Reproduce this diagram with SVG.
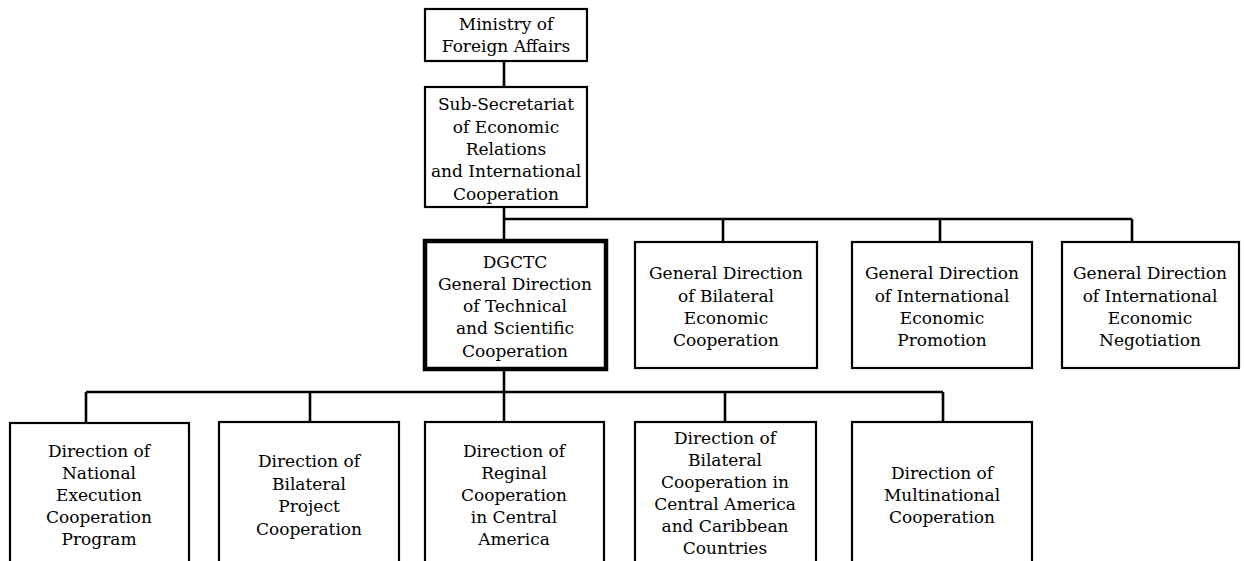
<svg xmlns="http://www.w3.org/2000/svg" width="1244" height="561" viewBox="0 0 1244 561">
<style>
.box{fill:#fff;stroke:#000;stroke-width:2.2}
.main{fill:#fff;stroke:#000;stroke-width:4.5}
.ln{stroke:#000;stroke-width:2.6;fill:none}
text{font-family:"DejaVu Serif","Liberation Serif",serif;font-size:17px;fill:#000;text-anchor:middle}
</style>
<rect width="1244" height="561" fill="#fff"/>
<g id="connectors">
<line class="ln" x1="504" y1="61" x2="504" y2="87"/>
<line class="ln" x1="504" y1="207" x2="504" y2="240"/>
<line class="ln" x1="504" y1="219" x2="1132" y2="219"/>
<line class="ln" x1="723" y1="219" x2="723" y2="242"/>
<line class="ln" x1="940" y1="219" x2="940" y2="242"/>
<line class="ln" x1="1132" y1="219" x2="1132" y2="242"/>
<line class="ln" x1="504" y1="369" x2="504" y2="422"/>
<line class="ln" x1="86" y1="392" x2="943" y2="392"/>
<line class="ln" x1="86" y1="392" x2="86" y2="423"/>
<line class="ln" x1="310" y1="392" x2="310" y2="422"/>
<line class="ln" x1="725" y1="392" x2="725" y2="422"/>
<line class="ln" x1="943" y1="392" x2="943" y2="422"/>
</g>
<g id="ministry">
<rect class="box" x="425" y="9" width="162" height="52"/>
<text x="506" y="30">Ministry of</text>
<text x="506" y="52">Foreign Affairs</text>
</g>
<g id="subsecretariat">
<rect class="box" x="425" y="87" width="162" height="120"/>
<text x="506" y="110">Sub-Secretariat</text>
<text x="506" y="133">of Economic</text>
<text x="506" y="155">Relations</text>
<text x="506" y="177">and International</text>
<text x="506" y="200">Cooperation</text>
</g>
<g id="dgctc">
<rect class="main" x="425" y="241" width="181" height="128"/>
<text x="515" y="268">DGCTC</text>
<text x="515" y="290">General Direction</text>
<text x="515" y="312">of Technical</text>
<text x="515" y="334">and Scientific</text>
<text x="515" y="357">Cooperation</text>
</g>
<g id="gd-bilateral">
<rect class="box" x="635" y="242" width="182" height="126"/>
<text x="726" y="279">General Direction</text>
<text x="726" y="302">of Bilateral</text>
<text x="726" y="324">Economic</text>
<text x="726" y="346">Cooperation</text>
</g>
<g id="gd-promotion">
<rect class="box" x="852" y="242" width="180" height="126"/>
<text x="942" y="279">General Direction</text>
<text x="942" y="302">of International</text>
<text x="942" y="324">Economic</text>
<text x="942" y="346">Promotion</text>
</g>
<g id="gd-negotiation">
<rect class="box" x="1062" y="242" width="177" height="126"/>
<text x="1150" y="279">General Direction</text>
<text x="1150" y="302">of International</text>
<text x="1150" y="324">Economic</text>
<text x="1150" y="346">Negotiation</text>
</g>
<g id="d-national">
<rect class="box" x="10" y="423" width="179" height="150"/>
<text x="99" y="457">Direction of</text>
<text x="99" y="479">National</text>
<text x="99" y="501">Execution</text>
<text x="99" y="523">Cooperation</text>
<text x="99" y="545">Program</text>
</g>
<g id="d-bilateral-project">
<rect class="box" x="219" y="422" width="180" height="150"/>
<text x="309" y="467">Direction of</text>
<text x="309" y="490">Bilateral</text>
<text x="309" y="512">Project</text>
<text x="309" y="535">Cooperation</text>
</g>
<g id="d-regional">
<rect class="box" x="425" y="422" width="179" height="150"/>
<text x="514" y="457">Direction of</text>
<text x="514" y="479">Reginal</text>
<text x="514" y="501">Cooperation</text>
<text x="514" y="523">in Central</text>
<text x="514" y="545">America</text>
</g>
<g id="d-bilateral-ca">
<rect class="box" x="635" y="422" width="181" height="150"/>
<text x="725" y="444">Direction of</text>
<text x="725" y="466">Bilateral</text>
<text x="725" y="488">Cooperation in</text>
<text x="725" y="510">Central America</text>
<text x="725" y="532">and Caribbean</text>
<text x="725" y="554">Countries</text>
</g>
<g id="d-multinational">
<rect class="box" x="852" y="422" width="180" height="150"/>
<text x="942" y="479">Direction of</text>
<text x="942" y="501">Multinational</text>
<text x="942" y="523">Cooperation</text>
</g>
</svg>
